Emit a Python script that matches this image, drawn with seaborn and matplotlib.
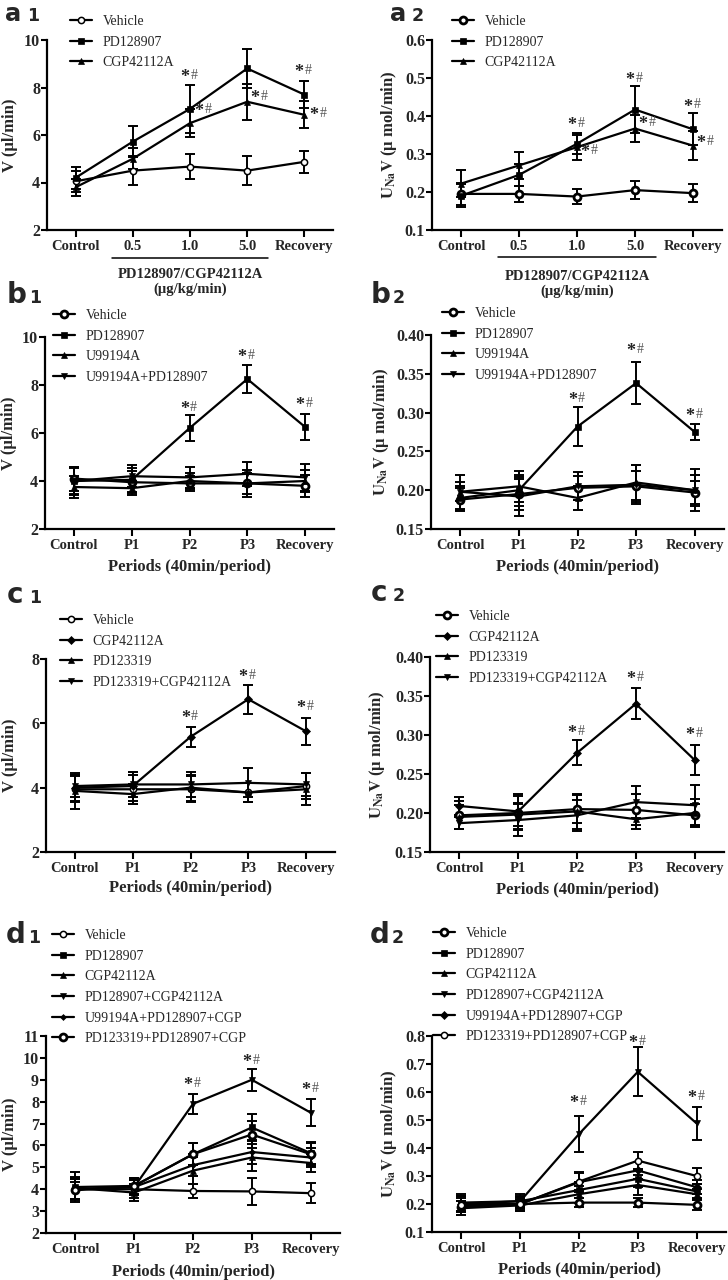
import numpy as np
import matplotlib
matplotlib.use('Agg')
import matplotlib.pyplot as plt
import seaborn as sns
from matplotlib.ticker import FormatStrFormatter
from matplotlib.transforms import blended_transform_factory

# Categories
dose_cats = ["Control", "0.5", "1.0", "5.0", "Recovery"]
period_cats = ["Control", "P1", "P2", "P3", "Recovery"]

# a1: V (ul/min)
a1_vehicle = [4.05, 4.5, 4.67, 4.5, 4.87]
a1_vehicle_err = [0.45, 0.6, 0.52, 0.6, 0.45]
a1_pd = [4.2, 5.72, 7.1, 8.8, 7.7]
a1_pd_err = [0.47, 0.65, 1.0, 0.82, 0.58]
a1_cgp = [3.8, 5.0, 6.5, 7.4, 6.85]
a1_cgp_err = [0.35, 0.45, 0.6, 0.75, 0.57]

# a2: UNaV (umol/min)
a2_vehicle = [0.195, 0.195, 0.188, 0.205, 0.197]
a2_vehicle_err = [0.03, 0.022, 0.02, 0.023, 0.024]
a2_pd = [0.19, 0.245, 0.327, 0.417, 0.365]
a2_pd_err = [0.03, 0.03, 0.028, 0.062, 0.042]
a2_cgp = [0.222, 0.27, 0.318, 0.367, 0.322]
a2_cgp_err = [0.035, 0.036, 0.033, 0.035, 0.038]

# b1
b1_vehicle = [4.1, 3.95, 3.9, 3.9, 3.8]
b1_vehicle_err = [0.5, 0.45, 0.3, 0.45, 0.45]
b1_pd = [4.0, 4.05, 6.2, 8.25, 6.25]
b1_pd_err = [0.55, 0.5, 0.55, 0.6, 0.55]
b1_u99 = [3.75, 3.7, 4.0, 3.9, 4.0]
b1_u99_err = [0.45, 0.3, 0.35, 0.55, 0.45]
b1_u99_pd = [4.0, 4.2, 4.15, 4.3, 4.15]
b1_u99_pd_err = [0.6, 0.45, 0.45, 0.5, 0.55]

# b2
b2_vehicle = [0.188, 0.195, 0.203, 0.205, 0.197]
b2_vehicle_err = [0.015, 0.02, 0.015, 0.02, 0.015]
b2_pd = [0.19, 0.2, 0.282, 0.338, 0.275]
b2_pd_err = [0.015, 0.02, 0.025, 0.027, 0.01]
b2_u99 = [0.198, 0.205, 0.19, 0.21, 0.2]
b2_u99_err = [0.012, 0.02, 0.015, 0.022, 0.02]
b2_u99_pd = [0.198, 0.192, 0.205, 0.207, 0.2]
b2_u99_pd_err = [0.022, 0.025, 0.018, 0.025, 0.027]

# c1
c1_vehicle = [3.95, 3.95, 3.95, 3.85, 4.05]
c1_vehicle_err = [0.4, 0.45, 0.4, 0.3, 0.4]
c1_cgp = [4.0, 4.05, 5.58, 6.75, 5.75]
c1_cgp_err = [0.4, 0.45, 0.32, 0.45, 0.43]
c1_pd123 = [3.9, 3.8, 4.0, 3.85, 3.95]
c1_pd123_err = [0.55, 0.3, 0.4, 0.3, 0.5]
c1_pd123_cgp = [4.05, 4.1, 4.1, 4.15, 4.1]
c1_pd123_cgp_err = [0.35, 0.4, 0.4, 0.45, 0.35]

# c2
c2_vehicle = [0.197, 0.2, 0.205, 0.204, 0.197]
c2_vehicle_err = [0.018, 0.022, 0.018, 0.02, 0.014]
c2_cgp = [0.209, 0.202, 0.277, 0.34, 0.268]
c2_cgp_err = [0.012, 0.022, 0.016, 0.02, 0.019]
c2_pd123 = [0.195, 0.198, 0.202, 0.192, 0.2]
c2_pd123_err = [0.015, 0.015, 0.022, 0.012, 0.018]
c2_pd123_cgp = [0.187, 0.191, 0.197, 0.214, 0.21]
c2_pd123_cgp_err = [0.008, 0.02, 0.02, 0.02, 0.026]

# d1
d1_vehicle = [4.0, 4.0, 3.92, 3.9, 3.82]
d1_vehicle_err = [0.45, 0.4, 0.3, 0.6, 0.45]
d1_pd = [4.1, 4.15, 5.6, 6.82, 5.65]
d1_pd_err = [0.7, 0.35, 0.5, 0.6, 0.5]
d1_cgp = [4.05, 3.85, 4.85, 5.45, 5.2]
d1_cgp_err = [0.5, 0.4, 0.6, 0.6, 0.4]
d1_pd_cgp = [4.0, 4.1, 7.9, 9.0, 7.5]
d1_pd_cgp_err = [0.5, 0.35, 0.45, 0.5, 0.62]
d1_u99 = [4.0, 4.1, 5.1, 5.7, 5.45]
d1_u99_err = [0.45, 0.3, 0.5, 0.55, 0.45]
d1_pd123 = [3.95, 4.15, 5.6, 6.5, 5.6]
d1_pd123_err = [0.4, 0.35, 0.5, 0.6, 0.5]

# d2
d2_vehicle = [0.19, 0.2, 0.205, 0.205, 0.197]
d2_vehicle_err = [0.02, 0.015, 0.015, 0.017, 0.02]
d2_pd = [0.205, 0.21, 0.25, 0.29, 0.245]
d2_pd_err = [0.03, 0.025, 0.03, 0.03, 0.025]
d2_cgp = [0.185, 0.195, 0.235, 0.268, 0.235]
d2_cgp_err = [0.025, 0.02, 0.03, 0.035, 0.02]
d2_pd_cgp = [0.2, 0.21, 0.45, 0.672, 0.488]
d2_pd_cgp_err = [0.03, 0.02, 0.066, 0.088, 0.058]
d2_u99 = [0.2, 0.2, 0.278, 0.32, 0.26]
d2_u99_err = [0.03, 0.025, 0.035, 0.03, 0.025]
d2_pd123 = [0.195, 0.2, 0.28, 0.355, 0.3]
d2_pd123_err = [0.025, 0.02, 0.03, 0.03, 0.028]

# significance marks (x index, y value)
a1_marks = [(2, 8.5), (2.24, 7.08), (3, 10.05), (3.23, 7.62), (4, 8.7), (4.25, 6.9)]
a2_marks = [(2, 0.381), (2.23, 0.31), (3, 0.5), (3.22, 0.382), (4, 0.429), (4.22, 0.332)]
b1_marks = [(2, 7.07), (3, 9.24), (4, 7.23)]
b2_marks = [(2, 0.318), (3, 0.381), (4, 0.298)]
c1_marks = [(2, 6.22), (3, 7.5), (4, 6.52)]
c2_marks = [(2, 0.305), (3, 0.374), (4, 0.302)]
d1_marks = [(2, 8.83), (3, 9.9), (4, 8.6)]
d2_marks = [(2, 0.565), (3, 0.782), (4, 0.583)]

sns.set_theme(style="ticks")
plt.rcParams['font.family'] = ['Liberation Serif', 'DejaVu Serif']
plt.rcParams['mathtext.fontset'] = 'stix'
plt.rcParams['axes.linewidth'] = 1.6
plt.rcParams['axes.edgecolor'] = 'black'

# marker styles
thin_circle = dict(marker='o', markersize=4.5, markerfacecolor='white', markeredgewidth=1.1)
bold_circle = dict(marker='o', markersize=5, markerfacecolor='white', markeredgewidth=2.0)
square = dict(marker='s', markersize=4, markerfacecolor='black', markeredgewidth=0.5)
tri_up = dict(marker='^', markersize=5, markerfacecolor='black', markeredgewidth=0.5)
tri_down = dict(marker='v', markersize=5, markerfacecolor='black', markeredgewidth=0.5)
diamond = dict(marker='D', markersize=4, markerfacecolor='black', markeredgewidth=0.5)
small_diamond = dict(marker='D', markersize=3, markerfacecolor='black', markeredgewidth=0.5)

W, H = 728, 1280
fig = plt.figure(figsize=(W / 100, H / 100), dpi=100)

V_LABEL = "V (µl/min)"
U_LABEL = r"$\mathbf{U_{Na}V}$ (µ mol/min)"


def draw_panel(box, cats, series, ylim, yticks, yfmt, ylabel, ylab_x, legend_xy,
               marks, xlabel_y=None):
    left, top, right, bottom = box
    ax = fig.add_axes([left / W, 1 - bottom / H, (right - left) / W, (bottom - top) / H])
    xs = np.arange(len(cats))
    for name, vals, errs, style in series:
        ax.errorbar(xs, vals, yerr=errs, fmt='none', ecolor='black', elinewidth=1.4,
                    capsize=3.5, capthick=1.4, zorder=2)
        sns.lineplot(x=xs, y=vals, ax=ax, color='black', linewidth=1.6, label=name,
                     markeredgecolor='black', zorder=3, **style)
    ax.set_xlim(-0.5, len(cats) - 0.5)
    ax.set_ylim(*ylim)
    ax.set_yticks(yticks)
    ax.yaxis.set_major_formatter(FormatStrFormatter(yfmt))
    ax.set_xticks(xs)
    ax.set_xticklabels(cats)
    sns.despine(ax=ax)
    ax.tick_params(axis='x', length=5, width=1.5, pad=2, labelsize=10.5, color='black')
    ax.tick_params(axis='y', length=4, width=1.5, pad=1, labelsize=11.5, color='black')
    for lab in ax.get_xticklabels() + ax.get_yticklabels():
        lab.set_fontweight('bold')
    ax.set_ylabel(ylabel, fontsize=12, fontweight='bold')
    ax.yaxis.set_label_coords((ylab_x - left) / (right - left), 0.5)
    ax.yaxis.label.set_verticalalignment('center')
    if xlabel_y is not None:
        ax.set_xlabel("Periods (40min/period)", fontsize=12, fontweight='bold')
        ax.xaxis.set_label_coords(0.5, -(xlabel_y - bottom) / (bottom - top))
        ax.xaxis.label.set_verticalalignment('center')
    else:
        ax.set_xlabel("")
    lx, ly = legend_xy
    ax.legend(loc='upper left', bbox_to_anchor=(lx / W, 1 - ly / H),
              bbox_transform=fig.transFigure, frameon=False, fontsize=10,
              handlelength=1.6, handletextpad=0.75, labelspacing=0.55,
              borderpad=0, borderaxespad=0)
    for mx, my in marks:
        ax.annotate('*', (mx, my), xytext=(-0.5, -1.5), textcoords='offset points',
                    ha='right', va='center', fontsize=13, fontweight='bold', color='#222222')
        ax.annotate('#', (mx, my), xytext=(0.5, 0), textcoords='offset points',
                    ha='left', va='center', fontsize=10, color='#555555')
    return ax


def dose_label(ax, box, line_y, t1_y, t2_y):
    left, top, right, bottom = box
    h = bottom - top
    tr = blended_transform_factory(ax.transData, ax.transAxes)
    ax.plot([0.63, 3.37], [-(line_y - bottom) / h] * 2, color='black', lw=1.1,
            transform=tr, clip_on=False)
    ax.text(2, -(t1_y - bottom) / h, "PD128907/CGP42112A", transform=tr, ha='center',
            va='center', fontsize=10.5, fontweight='bold')
    ax.text(2, -(t2_y - bottom) / h, "(µg/kg/min)", transform=tr, ha='center',
            va='center', fontsize=10.5, fontweight='bold')


def panel_tag(x, y, letter, digit, size=20):
    fig.text(x / W, 1 - y / H, letter, fontsize=size, fontweight='bold',
             family='DejaVu Sans', va='baseline', ha='left')
    fig.text((x + 22) / W, 1 - y / H, digit, fontsize=12.5, fontweight='bold',
             family='DejaVu Sans', va='baseline', ha='left')


# a1
box = (47, 40, 333, 230)
ax = draw_panel(box, dose_cats,
                [("Vehicle", a1_vehicle, a1_vehicle_err, thin_circle),
                 ("PD128907", a1_pd, a1_pd_err, square),
                 ("CGP42112A", a1_cgp, a1_cgp_err, tri_up)],
                (2, 10), [2, 4, 6, 8, 10], '%d', V_LABEL, 10, (70, 15), a1_marks)
dose_label(ax, box, 258, 275, 289)

# a2
box = (432, 40, 722, 230)
ax = draw_panel(box, dose_cats,
                [("Vehicle", a2_vehicle, a2_vehicle_err, bold_circle),
                 ("PD128907", a2_pd, a2_pd_err, square),
                 ("CGP42112A", a2_cgp, a2_cgp_err, tri_up)],
                (0.1, 0.6), [0.1, 0.2, 0.3, 0.4, 0.5, 0.6], '%.1f', U_LABEL, 389,
                (452, 15), a2_marks)
dose_label(ax, box, 257, 277, 291)

# b1
draw_panel((45, 337, 334, 529), period_cats,
           [("Vehicle", b1_vehicle, b1_vehicle_err, bold_circle),
            ("PD128907", b1_pd, b1_pd_err, square),
            ("U99194A", b1_u99, b1_u99_err, tri_up),
            ("U99194A+PD128907", b1_u99_pd, b1_u99_pd_err, tri_down)],
           (2, 10), [2, 4, 6, 8, 10], '%d', V_LABEL, 9, (53, 309), b1_marks, 567)

# b2
draw_panel((431, 335, 724, 529), period_cats,
           [("Vehicle", b2_vehicle, b2_vehicle_err, bold_circle),
            ("PD128907", b2_pd, b2_pd_err, square),
            ("U99194A", b2_u99, b2_u99_err, tri_up),
            ("U99194A+PD128907", b2_u99_pd, b2_u99_pd_err, tri_down)],
           (0.15, 0.40), [0.15, 0.20, 0.25, 0.30, 0.35, 0.40], '%.2f', U_LABEL, 381,
           (442, 307), b2_marks, 567)

# c1
draw_panel((46, 659, 335, 852), period_cats,
           [("Vehicle", c1_vehicle, c1_vehicle_err, thin_circle),
            ("CGP42112A", c1_cgp, c1_cgp_err, diamond),
            ("PD123319", c1_pd123, c1_pd123_err, tri_up),
            ("PD123319+CGP42112A", c1_pd123_cgp, c1_pd123_cgp_err, tri_down)],
           (2, 8), [2, 4, 6, 8], '%d', V_LABEL, 10, (60, 614), c1_marks, 888)

# c2
draw_panel((430, 657, 724, 852), period_cats,
           [("Vehicle", c2_vehicle, c2_vehicle_err, bold_circle),
            ("CGP42112A", c2_cgp, c2_cgp_err, diamond),
            ("PD123319", c2_pd123, c2_pd123_err, tri_up),
            ("PD123319+CGP42112A", c2_pd123_cgp, c2_pd123_cgp_err, tri_down)],
           (0.15, 0.40), [0.15, 0.20, 0.25, 0.30, 0.35, 0.40], '%.2f', U_LABEL, 377,
           (436, 610), c2_marks, 890)

# d1
draw_panel((46, 1036, 340, 1233), period_cats,
           [("Vehicle", d1_vehicle, d1_vehicle_err, thin_circle),
            ("PD128907", d1_pd, d1_pd_err, square),
            ("CGP42112A", d1_cgp, d1_cgp_err, tri_up),
            ("PD128907+CGP42112A", d1_pd_cgp, d1_pd_cgp_err, tri_down),
            ("U99194A+PD128907+CGP", d1_u99, d1_u99_err, small_diamond),
            ("PD123319+PD128907+CGP", d1_pd123, d1_pd123_err, bold_circle)],
           (2, 11), list(range(2, 12)), '%d', V_LABEL, 10, (52, 929), d1_marks, 1272)

# d2
draw_panel((432, 1036, 726, 1232), period_cats,
           [("Vehicle", d2_vehicle, d2_vehicle_err, bold_circle),
            ("PD128907", d2_pd, d2_pd_err, square),
            ("CGP42112A", d2_cgp, d2_cgp_err, tri_up),
            ("PD128907+CGP42112A", d2_pd_cgp, d2_pd_cgp_err, tri_down),
            ("U99194A+PD128907+CGP", d2_u99, d2_u99_err, diamond),
            ("PD123319+PD128907+CGP", d2_pd123, d2_pd123_err, thin_circle)],
           (0.1, 0.8), [0.1, 0.2, 0.3, 0.4, 0.5, 0.6, 0.7, 0.8], '%.1f', U_LABEL, 389,
           (433, 927), d2_marks, 1270)

panel_tag(5, 21, 'a', '1', size=17.5)
panel_tag(390, 21, 'a', '2', size=17.5)
panel_tag(7, 303, 'b', '1')
panel_tag(371, 303, 'b', '2')
panel_tag(7, 603, 'c', '1')
panel_tag(371, 601, 'c', '2')
panel_tag(6, 943, 'd', '1')
panel_tag(370, 943, 'd', '2')

fig.savefig('out.png', dpi=100)
